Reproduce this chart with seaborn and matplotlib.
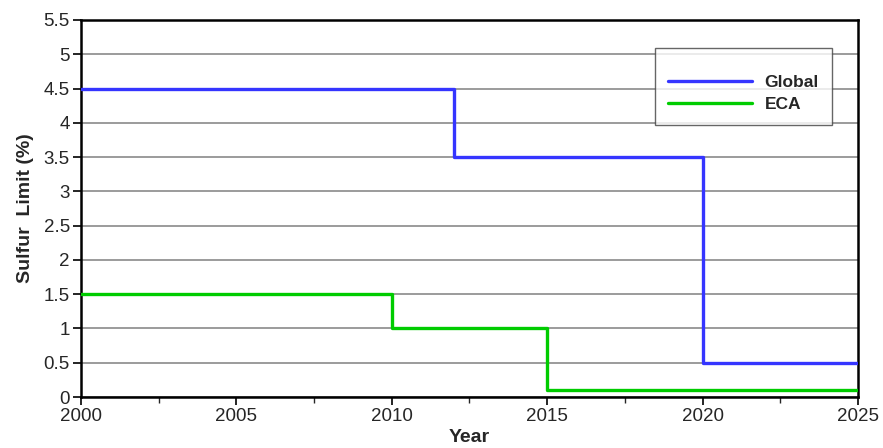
import matplotlib
matplotlib.use("Agg")
import matplotlib.pyplot as plt
from matplotlib.ticker import MultipleLocator
import seaborn as sns
import pandas as pd

# Sulfur limit schedule (step changes by year)
global_years = [2000, 2012, 2020, 2025]
global_limits = [4.5, 3.5, 0.5, 0.5]
eca_years = [2000, 2010, 2015, 2025]
eca_limits = [1.5, 1.0, 0.1, 0.1]
series_names = ["Global", "ECA"]
series_colors = ["#3535FF", "#00CC00"]

df = pd.concat([
    pd.DataFrame({"Year": global_years, "Limit": global_limits, "Series": series_names[0]}),
    pd.DataFrame({"Year": eca_years, "Limit": eca_limits, "Series": series_names[1]}),
])

sns.set_style("white")
plt.rcParams["font.family"] = ["Liberation Sans", "DejaVu Sans"]

fig = plt.figure(figsize=(8.83, 4.48), dpi=100)
ax = fig.add_axes([0.0917, 0.1138, 0.88, 0.8416])

sns.lineplot(data=df, x="Year", y="Limit", hue="Series",
             palette=dict(zip(series_names, series_colors)),
             drawstyle="steps-post", linewidth=2.4, ax=ax, zorder=3)

ax.set_xlim(2000, 2025)
ax.set_ylim(0, 5.5)
ax.xaxis.set_major_locator(MultipleLocator(5))
ax.xaxis.set_minor_locator(MultipleLocator(2.5))
ax.yaxis.set_major_locator(MultipleLocator(0.5))
ax.set_yticklabels([f"{v:g}" for v in ax.get_yticks()])

ax.grid(axis="y", which="major", color="#808080", linewidth=1.1, zorder=1)
ax.set_axisbelow(True)

for sp in ax.spines.values():
    sp.set_linewidth(1.8)
    sp.set_color("black")

ax.tick_params(axis="both", which="major", direction="out", length=6, width=1.2,
               labelsize=13.5, color="black", bottom=True, left=True)
ax.tick_params(axis="x", which="minor", direction="out", length=4, width=1.0,
               bottom=True)
ax.tick_params(axis="x", pad=2)
ax.tick_params(axis="y", pad=2)

ax.set_xlabel("Year", fontsize=14, fontweight="bold", labelpad=3)
ax.set_ylabel("Sulfur  Limit (%)", fontsize=14, fontweight="bold", labelpad=7)

leg = ax.legend(loc="upper right", bbox_to_anchor=(0.9665, 0.9257), borderaxespad=0,
                frameon=True, fancybox=False, edgecolor="#404040", fontsize=12.5,
                handlelength=4.8, handletextpad=0.75, borderpad=0.75,
                labelspacing=0.4, title=" ", title_fontsize=6)
leg.get_frame().set_linewidth(1.0)
for t in leg.get_texts():
    t.set_fontweight("bold")
for h in leg.get_lines():
    h.set_linewidth(2.4)

fig.savefig("out.png", dpi=100)
